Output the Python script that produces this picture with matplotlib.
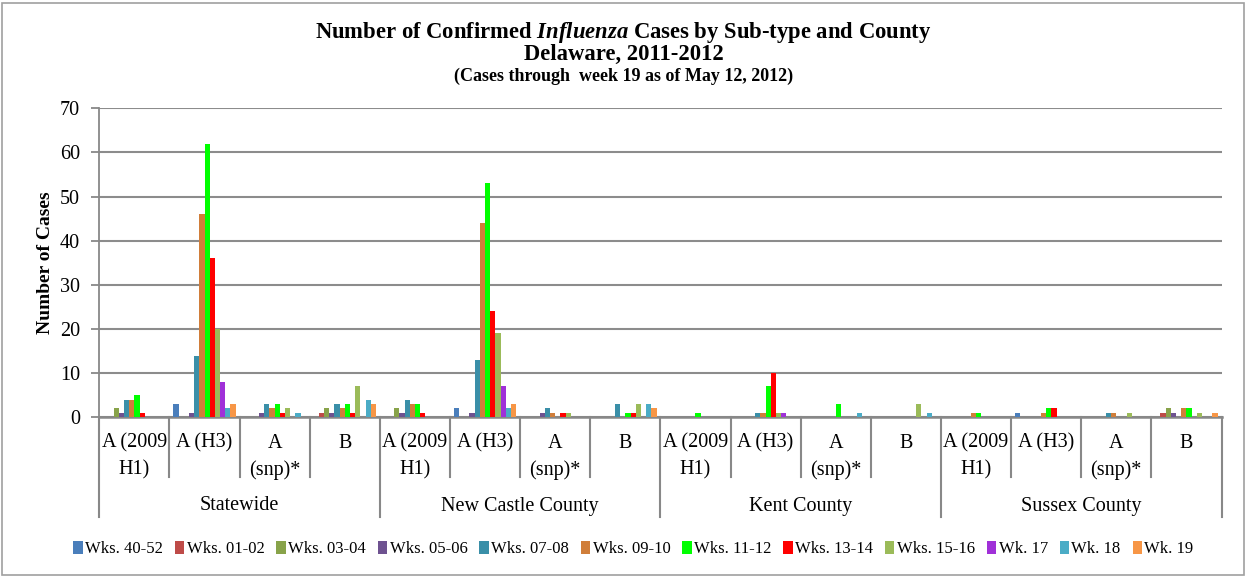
import matplotlib
matplotlib.use("Agg")
import matplotlib.pyplot as plt
from matplotlib.patches import Rectangle, Patch
from matplotlib.lines import Line2D
import numpy as np

counties = ["Statewide", "New Castle County", "Kent County", "Sussex County"]
subtypes = [["A (2009", "H1)"], ["A (H3)"], ["A", "(snp)*"], ["B"]]
series_names = ["Wks. 40-52", "Wks. 01-02", "Wks. 03-04", "Wks. 05-06", "Wks. 07-08",
                "Wks. 09-10", "Wks. 11-12", "Wks. 13-14", "Wks. 15-16", "Wk. 17",
                "Wk. 18", "Wk. 19"]
colors = ["#4A7EBB", "#BE4B48", "#88A34A", "#6E5290", "#3A8FA8", "#D07E3A",
          "#00FF00", "#FF0000", "#9BBB59", "#A030D8", "#4BACC6", "#F79646"]

# 16 groups: Statewide(H1,H3,snp,B), New Castle(...), Kent(...), Sussex(...)
wks_40_52 = [0, 3, 0, 0,  0, 2, 0, 0,  0, 0, 0, 0,  0, 1, 0, 0]
wks_01_02 = [0, 0, 0, 1,  0, 0, 0, 0,  0, 0, 0, 0,  0, 0, 0, 1]
wks_03_04 = [2, 0, 0, 2,  2, 0, 0, 0,  0, 0, 0, 0,  0, 0, 0, 2]
wks_05_06 = [1, 1, 1, 1,  1, 1, 1, 0,  0, 0, 0, 0,  0, 0, 0, 1]
wks_07_08 = [4, 14, 3, 3, 4, 13, 2, 3, 0, 1, 0, 0,  0, 0, 1, 0]
wks_09_10 = [4, 46, 2, 2, 3, 44, 1, 0, 0, 1, 0, 0,  1, 1, 1, 2]
wks_11_12 = [5, 62, 3, 3, 3, 53, 0, 1, 1, 7, 3, 0,  1, 2, 0, 2]
wks_13_14 = [1, 36, 1, 1, 1, 24, 1, 1, 0, 10, 0, 0, 0, 2, 0, 0]
wks_15_16 = [0, 20, 2, 7, 0, 19, 1, 3, 0, 1, 0, 3,  0, 0, 1, 1]
wk_17     = [0, 8, 0, 0,  0, 7, 0, 0,  0, 1, 0, 0,  0, 0, 0, 0]
wk_18     = [0, 2, 1, 4,  0, 2, 0, 3,  0, 0, 1, 1,  0, 0, 0, 0]
wk_19     = [0, 3, 0, 3,  0, 3, 0, 2,  0, 0, 0, 0,  0, 0, 0, 1]
series = [wks_40_52, wks_01_02, wks_03_04, wks_05_06, wks_07_08, wks_09_10,
          wks_11_12, wks_13_14, wks_15_16, wk_17, wk_18, wk_19]

yticks = [0, 10, 20, 30, 40, 50, 60, 70]

plt.rcParams['font.family'] = ['Liberation Serif', 'DejaVu Serif']
plt.rcParams['mathtext.fontset'] = 'custom'
plt.rcParams['mathtext.it'] = 'Liberation Serif:italic:bold'
plt.rcParams['mathtext.rm'] = 'Liberation Serif:bold'
plt.rcParams['mathtext.bf'] = 'Liberation Serif:bold'

W, H = 1247, 577
fig = plt.figure(figsize=(W / 100, H / 100), dpi=100)

left, right, top, bottom = 99.3, 1221.5, 108.3, 417.3
ax = fig.add_axes([left / W, (H - bottom) / H, (right - left) / W, (bottom - top) / H])
ax_h = bottom - top

ngroups = len(wks_40_52)
nser = len(series)
bw = 1 / (nser + 1.5)
off = 0.75 * bw
x = np.arange(ngroups)
for j, (vals, c) in enumerate(zip(series, colors)):
    ax.bar(x + off + j * bw, vals, width=bw, align='edge', color=c,
           edgecolor='none', zorder=3)

fs = 14.5
ax.set_xlim(0, ngroups)
ax.set_ylim(0, 70)
ax.set_yticks(yticks)
ax.set_yticklabels([str(v) for v in yticks], fontsize=fs)
ax.tick_params(axis='y', length=6, width=1.3, color='#888888', pad=8)
ax.tick_params(axis='x', bottom=False, labelbottom=False)
ax.yaxis.grid(True, color='#8C8C8C', linewidth=1.5, zorder=0)
for s in ['top', 'right']:
    ax.spines[s].set_visible(False)
ax.spines['left'].set_color('#888888')
ax.spines['left'].set_linewidth(1.3)
ax.spines['bottom'].set_color('#888888')
ax.spines['bottom'].set_linewidth(1.8)
ax.set_axisbelow(True)

ax.set_ylabel("Number of Cases", fontsize=14, fontweight='bold')
ax.yaxis.set_label_coords(-0.04, 0.5)

def yfrac(px):
    return -(px - bottom) / ax_h

trans = ax.get_xaxis_transform()
for i in range(ngroups + 1):
    yend = 517 if i % 4 == 0 else 477
    ax.add_line(Line2D([i, i], [0, yfrac(yend)], transform=trans, color='#888888',
                       linewidth=1.5, clip_on=False))
for i in range(ngroups):
    lines = subtypes[i % 4]
    for k, ln in enumerate(lines):
        ax.text(i + 0.5, yfrac(443 + 27 * k), ln, transform=trans, ha='center',
                va='center', fontsize=fs)
for k, cname in enumerate(counties):
    ax.text(4 * k + 2, yfrac(506), cname, transform=trans, ha='center', va='center',
            fontsize=fs)

fig.text(0.5, 1 - 38 / H, "Number of Confirmed $\\mathit{Influenza}$ Cases by Sub-type and County",
         ha='center', va='baseline', fontsize=16.3, fontweight='bold')
fig.text(0.5, 1 - 60 / H, "Delaware, 2011-2012", ha='center', va='baseline',
         fontsize=16.3, fontweight='bold')
fig.text(0.5, 1 - 81 / H, "(Cases through  week 19 as of May 12, 2012)", ha='center',
         va='baseline', fontsize=13, fontweight='bold')

handles = [Patch(facecolor=c, edgecolor='none') for c in colors]
fig.legend(handles, series_names, loc='center', bbox_to_anchor=(0.508, 1 - 549 / H),
           ncol=nser, frameon=False, fontsize=12, handlelength=0.55, handleheight=0.8,
           handletextpad=0.15, columnspacing=0.72, borderaxespad=0)

fig.patches.append(Rectangle((2 / W, 2 / H), (W - 5) / W, (H - 5) / H, transform=fig.transFigure,
                             fill=False, edgecolor='#A0A0A0', linewidth=1.2))

fig.savefig("out.png", dpi=100)
